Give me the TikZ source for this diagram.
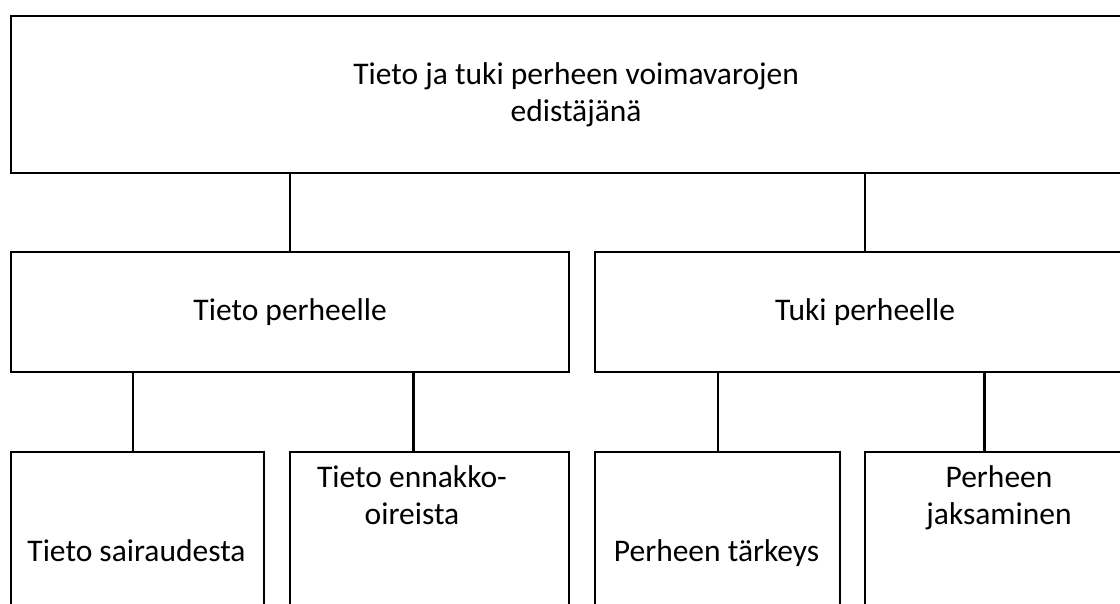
\documentclass[tikz,border=0pt]{standalone}
\usepackage{fontspec}
\setmainfont{Carlito}
\usetikzlibrary{calc}
\begin{document}
\begin{tikzpicture}[x=1pt,y=-1pt,
  box/.style={draw=black, line width=2.2pt, rectangle, inner sep=0pt, anchor=north west,
    font=\fontsize{31.5}{37}\selectfont, align=center},
  lbl/.style={font=\fontsize{31.5}{37}\selectfont, inner sep=0pt, align=center, anchor=base},
  conn/.style={draw=black, line width=2.2pt}]
\useasboundingbox (0,0) rectangle (1120,603);
\clip (0,0) rectangle (1120,603);
% top
\node[box, minimum width=1130pt, minimum height=157pt] (top) at (10,15)
  {Tieto ja tuki perheen voimavarojen\\edistäjänä};
% second row
\node[box, minimum width=558pt, minimum height=120pt] (lt) at (10,251) {Tieto perheelle};
\node[box, minimum width=540pt, minimum height=120pt] (rt) at (594,251) {Tuki perheelle};
% bottom row
\node[box, minimum width=253pt, minimum height=220pt] (b1) at (10,451) {};
\node[box, minimum width=279pt, minimum height=220pt] (b2) at (289,451) {};
\node[box, minimum width=245pt, minimum height=220pt] (b3) at (594,451) {};
\node[box, minimum width=270pt, minimum height=220pt] (b4) at (864,451) {};
% texts of bottom row
\node[lbl] (t1) at (136.5,561) {Tieto sairaudesta};
\node[lbl] (t2) at (412,524) {Tieto ennakko-\\oireista};
\node[lbl] (t3) at (716.5,561) {Perheen tärkeys};
\node[lbl] (t4) at (999,524) {Perheen\\jaksaminen};
% connectors
\draw[conn] (top.south -| lt.north) -- (lt.north);
\draw[conn] (top.south -| rt.north) -- (rt.north);
\coordinate (c1) at ($(b1.north west)!0.482!(b1.north east)$);
\coordinate (c2) at ($(b2.north west)!0.443!(b2.north east)$);
\coordinate (c3) at ($(b3.north west)!0.5!(b3.north east)$);
\coordinate (c4) at ($(b4.north west)!0.443!(b4.north east)$);
\draw[conn] (lt.south -| c1) -- (c1);
\draw[conn] (lt.south -| c2) -- (c2);
\draw[conn] (rt.south -| c3) -- (c3);
\draw[conn] (rt.south -| c4) -- (c4);
\end{tikzpicture}
\end{document}
